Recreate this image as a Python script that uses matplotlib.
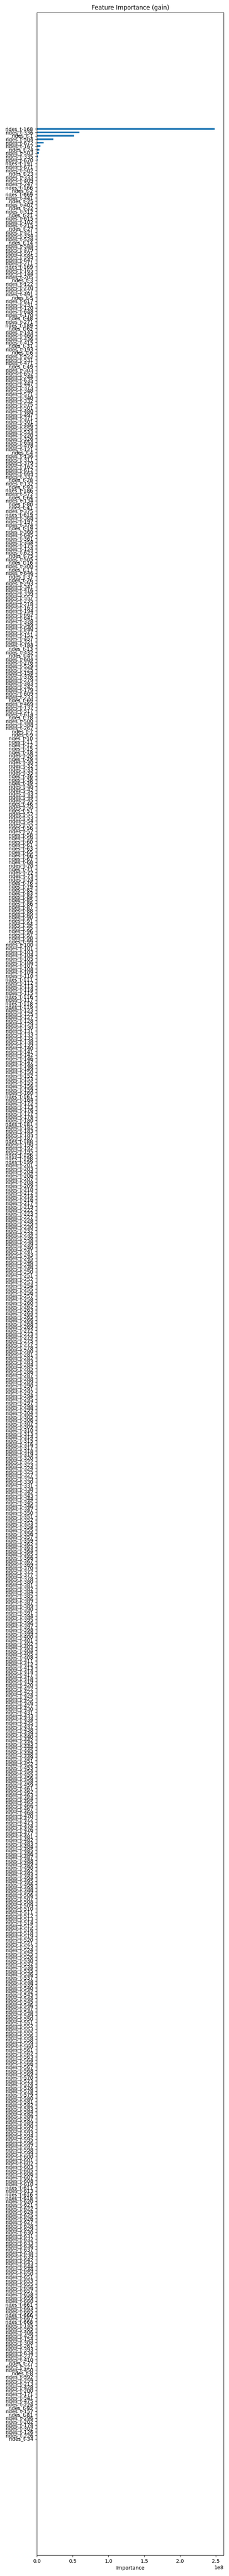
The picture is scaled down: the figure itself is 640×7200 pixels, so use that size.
import matplotlib
matplotlib.use("Agg")
import matplotlib.pyplot as plt
import numpy as np

# lag numbers of features, in plotted order (top to bottom)
lags_top = [168, 336, 1, 504, 672, 167, 24, 503, 335, 670, 191, 671, 502, 23, 333, 409, 247, 166, 2, 669, 441, 25, 407,
            22, 312, 21, 615, 102, 215, 27, 421, 334, 528, 14, 588, 479, 591, 585, 647, 211, 169, 165, 144, 205, 3, 122,
            270, 527, 491, 5, 617, 231, 120, 648, 170,
            48, 271, 189, 62, 143, 460, 436, 415, 31, 193, 6, 522, 531, 471, 49, 303, 652, 244, 635, 447, 373, 348, 571,
            340, 332, 575, 501, 480, 497, 371, 301, 446, 554, 533, 220, 326, 654, 478, 121,
            4, 136, 311, 379, 162, 612, 664, 337, 28, 132, 93, 186, 572, 64, 134, 80, 41, 375, 619, 368, 197, 374, 19,
            360, 645, 361, 358, 175, 124, 623, 75, 505, 16, 300, 17, 646, 37, 26, 293, 341, 416,
            339, 557, 235, 218, 163, 194, 662, 641, 328, 349, 640, 577, 151, 457, 321, 184, 13, 432, 47, 604, 276, 529,
            225, 158, 376, 279, 383, 242, 179, 609, 233, 69, 469, 137, 517, 614, 78, 500, 388, 267]
lags_bottom = [145, 565, 406, 429, 154, 308, 261, 393, 634, 237, 410, 77, 221, 450, 8, 392, 259, 213, 428, 200, 171,
               541, 475, 224, 92, 157, 81, 296, 202, 174, 302, 126, 226, 34]
# middle block: lags not read individually
_used = set(lags_top) | set(lags_bottom)
lags_mid = [n for n in range(1, 673) if n not in _used]
lags = lags_top + lags_mid + lags_bottom
features = [f"rides_t-{n}" for n in lags]

# gain values of the leading features
gain_top = [2.484e8, 0.594e8, 0.518e8, 0.2286e8, 0.0939e8, 0.049e8, 0.0327e8, 0.032e8, 0.0143e8, 0.008e8,
            0.007e8, 0.006e8, 0.003e8, 0.0025e8, 0.002e8, 0.0018e8, 0.0016e8, 0.0015e8, 0.0014e8, 0.0013e8]
gain = gain_top + [0.0] * (len(features) - len(gain_top))

fig = plt.figure(figsize=(6.4, 72), dpi=100)
ax = fig.add_subplot(111)
fig.subplots_adjust(left=0.161, right=0.9766, top=0.99514, bottom=0.008056)
ax.barh(np.arange(len(features)), gain, height=0.5, color="#1f77b4")
ax.set_yticks(np.arange(len(features)))
ax.set_yticklabels(features)
ax.invert_yaxis()
ax.set_title("Feature Importance (gain)")
ax.set_xlabel("Importance")
fig.savefig("out.png", dpi=100)
